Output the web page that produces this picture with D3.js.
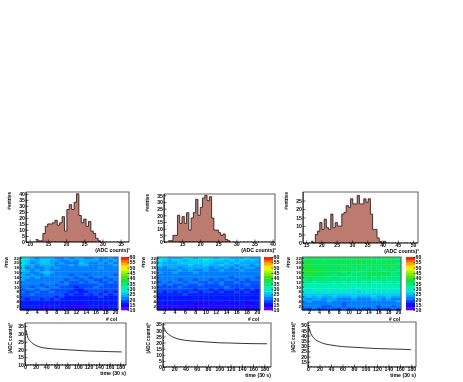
<!DOCTYPE html>
<html>
<head>
<meta charset="utf-8">
<script src="https://cdn.jsdelivr.net/npm/d3@7"></script>
<style>
html, body { margin: 0; padding: 0; background: #fff; }
svg { display: block; filter: blur(0.45px); }
text { font-family: "Liberation Sans", sans-serif; font-weight: bold; fill: #000; }
</style>
</head>
<body>
<svg id="chart" width="463" height="382"></svg>
<script>
// histogram counts
var histStart = [11.65, 11.2, 16.6];
var histBin = [0.66, 0.63, 0.72];
var histA = [2,1,1,7,13,15,15,16,18,14,16,21,9,27,31,27,33,40,22,16,19,13,17,9,7,3,1];
var histB = [1,1,5,5,20,14,19,14,22,9,18,22,32,20,26,33,35,31,34,18,9,9,7,5,6,2,1];
var histC = [1,0,5,7,12,8,14,9,8,17,9,12,10,10,17,18,22,21,26,23,23,28,23,23,26,24,26,17,8,8,3,1,0,1];

// heat maps, top row (22) first, column 1 to 20
var heatA = [
 [27,25,23,21,23,24,23,22,22,23,22,23,24,22,22,23,22,21,23,22],
 [29,26,23,24,26,26,24,23,22,22,23,22,24,23,23,24,22,23,22,23],
 [28,25,22,24,25,26,24,22,23,21,22,22,25,23,21,22,24,21,23,22],
 [27,24,23,22,24,24,23,22,21,22,23,21,23,24,22,21,22,22,21,23],
 [26,22,23,21,22,23,22,23,21,21,22,22,21,22,20,21,23,21,22,20],
 [25,23,22,23,21,24,22,21,22,20,21,22,22,20,21,22,21,20,21,21],
 [24,23,21,22,23,25,23,21,20,21,20,21,20,21,22,20,21,22,20,21],
 [23,22,23,21,22,24,22,20,21,21,19,20,21,19,20,21,20,20,21,19],
 [24,24,22,23,21,22,21,21,20,20,21,19,20,20,19,21,20,19,20,20],
 [23,22,21,22,21,20,22,20,21,19,20,20,18,20,21,19,19,20,19,20],
 [22,21,22,20,21,21,20,21,19,20,18,19,20,19,20,20,19,18,20,19],
 [20,21,20,21,19,20,21,19,20,20,19,18,19,18,19,19,20,19,18,19],
 [21,20,19,20,21,19,20,20,19,18,19,17,18,19,18,20,19,18,19,18],
 [19,20,20,19,20,20,19,19,18,19,18,17,17,18,19,18,18,19,18,18],
 [20,19,19,20,18,19,20,18,19,18,17,18,16,17,18,19,18,17,18,17],
 [19,18,20,18,19,19,18,19,18,17,18,16,17,18,17,18,17,18,17,18],
 [18,19,18,19,18,18,19,17,18,17,17,16,17,16,17,17,18,17,17,17],
 [18,17,18,18,17,18,17,18,17,16,16,17,16,16,16,17,16,17,16,17],
 [17,16,17,16,17,17,16,17,16,17,15,15,16,15,16,16,17,16,16,16],
 [16,15,16,16,15,16,15,16,15,15,15,14,14,15,16,15,16,15,15,15],
 [15,16,15,15,14,14,15,15,14,14,14,13,13,14,15,15,14,14,15,15],
 [14,15,15,16,14,13,14,15,14,15,14,13,13,14,15,15,14,15,15,16]
];
var heatB = [
 [27,26,24,23,24,25,26,24,25,26,25,24,26,25,24,24,23,25,24,23],
 [28,25,24,25,26,24,27,25,26,28,26,25,27,24,25,24,25,24,25,24],
 [26,24,23,24,25,25,26,25,25,27,25,24,24,25,23,25,24,23,24,23],
 [25,23,24,23,24,24,25,24,23,25,24,23,25,23,24,22,24,23,22,24],
 [23,22,23,24,22,24,23,23,24,23,22,24,22,23,22,23,22,23,23,22],
 [22,20,22,22,23,21,23,22,22,23,22,21,23,22,21,22,23,21,22,22],
 [23,21,21,23,21,22,21,23,21,22,21,22,21,22,22,20,21,22,21,21],
 [21,22,22,20,22,21,22,20,22,20,21,20,22,20,21,21,20,21,20,21],
 [20,21,20,21,21,20,21,21,20,21,20,21,20,21,19,20,21,20,20,19],
 [21,20,21,20,19,21,20,19,21,20,19,20,19,20,20,19,20,19,20,20],
 [19,20,19,20,20,19,20,20,19,19,20,18,20,18,19,20,19,19,18,19],
 [20,19,20,19,19,20,18,19,20,18,19,19,21,19,18,19,18,20,19,18],
 [19,18,19,18,20,18,19,18,19,19,18,18,19,20,19,18,19,18,18,19],
 [18,19,18,19,18,19,18,17,18,18,17,18,17,18,18,17,18,17,18,17],
 [18,17,18,17,18,17,18,18,17,18,18,17,18,17,17,18,17,18,17,17],
 [17,17,16,17,17,18,16,17,17,16,17,16,17,17,16,16,17,17,16,17],
 [16,17,16,16,15,16,17,16,15,16,16,17,15,16,17,15,16,16,17,16],
 [16,15,16,15,16,15,15,16,15,15,15,15,16,15,15,16,15,15,16,15],
 [15,16,15,15,15,15,14,15,14,15,14,15,15,14,15,15,15,14,15,15],
 [15,14,15,14,14,15,15,14,14,14,15,14,14,15,14,14,15,14,14,15],
 [14,14,14,15,14,14,13,13,14,14,14,13,14,14,14,15,14,14,15,14],
 [13,14,13,14,13,13,14,14,13,14,14,13,13,13,14,14,15,14,14,15]
];
var heatC = [
 [33,37,39,37,35,36,35,37,36,35,36,36,37,36,35,35,36,35,36,34],
 [36,38,37,36,34,36,37,35,37,36,37,38,36,37,36,34,36,36,35,35],
 [38,37,35,36,38,35,36,37,36,36,35,36,37,35,36,37,35,37,36,34],
 [37,38,37,37,35,37,35,36,35,37,36,35,35,36,35,36,37,39,35,36],
 [39,39,37,36,37,36,36,35,36,35,34,36,35,34,35,34,35,36,34,35],
 [38,39,38,38,36,37,35,36,35,36,35,35,34,35,36,35,34,35,35,34],
 [39,38,39,37,37,35,36,35,34,35,34,34,35,36,35,36,37,35,34,35],
 [37,38,37,36,36,35,34,35,35,34,35,35,34,36,35,37,36,35,33,34],
 [36,35,36,35,35,34,35,33,34,34,33,34,35,36,34,35,34,34,34,33],
 [34,35,34,34,33,34,33,34,33,33,34,33,34,33,33,34,34,33,33,33],
 [33,33,32,33,34,33,32,33,32,33,32,33,32,33,32,32,33,32,33,32],
 [32,31,32,32,31,32,31,32,31,31,32,31,31,32,31,32,31,32,31,31],
 [31,31,30,31,31,30,31,30,31,30,30,31,30,30,31,30,31,30,30,31],
 [30,29,30,30,29,30,29,30,30,29,29,30,29,30,29,30,29,30,29,29],
 [28,29,28,29,28,29,28,28,29,28,28,27,28,29,28,28,29,28,28,28],
 [26,27,27,26,27,26,27,26,25,26,27,26,26,27,25,26,27,26,26,25],
 [24,25,24,25,24,24,25,24,23,24,25,24,24,23,25,24,24,25,24,24],
 [23,22,23,23,22,23,23,22,21,22,23,22,21,22,23,23,22,23,22,22],
 [22,23,21,22,22,23,22,22,20,21,22,22,21,20,21,22,22,21,22,23],
 [21,22,22,20,21,21,22,21,19,20,21,21,22,21,20,21,22,21,21,21],
 [20,20,21,21,18,19,20,20,19,21,20,20,20,21,20,19,20,20,19,20],
 [19,19,20,19,18,20,19,19,20,19,19,20,19,19,20,19,19,19,20,19]
];

// cooling curves: time, |ADC counts|^2
var timeA = [2,5,10,20,30,40,60,80,100,120,140,160,183];
var curveA = [32.5,28,25.3,22.7,21.4,20.8,20.2,19.8,19.4,19,18.8,18.6,18.4];
var timeB = [1,5,10,20,30,40,60,80,100,120,140,160,185];
var curveB = [32.8,29,26.7,24,22.6,21.8,21,20.4,19.8,19.6,19.3,19.1,19];
var timeC = [1,5,10,20,30,40,60,80,100,120,140,160,179];
var curveC = [48.4,42,37.8,34,32,31,29.5,28.9,28.2,27.6,27.3,27,26.6];

var paletteStops = [10,15,20,25,30,35,40,45,50,55,60];
var paletteColors = ["#8000ff","#0000ff","#0068ff","#00c0ff","#00f4c8","#00e870","#28e020","#90f000","#ffff00","#ff9000","#ff0000"];
var paletteTicks = [10,15,20,25,30,35,40,45,50,55,60];
var colTicks = [2,4,6,8,10,12,14,16,18,20];
var rowTicks = [2,4,6,8,10,12,14,16,18,20,22];

var svg = d3.select("#chart");
var tickFont = 5.2;

var rainbow = d3.scaleLinear().domain(paletteStops).range(paletteColors);
// the palette is stepped in 2.5 count bands like the colour bar
var levels = d3.range(10, 60, 2.5);
var heatColor = d3.scaleQuantize().domain([10, 60]).range(levels.map(function (d) { return rainbow(d + 1.25); }));

function styleAxis(g) {
  g.select(".domain").remove();
  g.selectAll("line").attr("stroke", "#000").attr("stroke-width", 0.6);
  g.selectAll("text").style("font-size", tickFont + "px");
}

function drawFrame(g, w, h) {
  // root style box: grey top and right, black left and bottom
  g.append("path").attr("fill", "none").attr("stroke", "#666").attr("stroke-width", 1.1)
    .attr("d", "M0,0H" + w + "V" + h);
  g.append("path").attr("fill", "none").attr("stroke", "#000").attr("stroke-width", 1)
    .attr("d", "M0,0V" + h + "H" + w);
}

function drawAxes(g, x, y, w, h, xTicks, yTicks, xMinor, yMinor) {
  g.append("g").attr("transform", "translate(0," + h + ")")
    .call(d3.axisBottom(x).tickValues(xMinor).tickSize(-1).tickFormat(""))
    .call(styleAxis);
  g.append("g")
    .call(d3.axisLeft(y).tickValues(yMinor).tickSize(-1).tickFormat(""))
    .call(styleAxis);
  g.append("g").attr("transform", "translate(0," + h + ")")
    .call(d3.axisBottom(x).tickValues(xTicks).tickSize(-2.5).tickPadding(0).tickFormat(d3.format("d")))
    .call(styleAxis);
  g.append("g")
    .call(d3.axisLeft(y).tickValues(yTicks).tickSize(-2.5).tickPadding(1).tickFormat(d3.format("d")))
    .call(styleAxis);
}

function yLabel(g, label, xPos, yPos) {
  g.append("text").attr("transform", "translate(" + xPos + "," + yPos + ") rotate(-90)")
    .attr("text-anchor", "end").style("font-size", "4.6px").text(label);
}

function xLabel(g, label, xPos, yPos, size) {
  g.append("text").attr("x", xPos).attr("y", yPos).attr("text-anchor", "end")
    .style("font-size", size + "px").text(label);
}

function drawHist(box, counts, start, bin, xDomain, yMax, xTicks, yTicks) {
  var w = box.right - box.left, h = box.bottom - box.top;
  var g = svg.append("g").attr("transform", "translate(" + box.left + "," + box.top + ")");
  var x = d3.scaleLinear().domain(xDomain).range([0, w]);
  var y = d3.scaleLinear().domain([0, yMax]).range([h, 0]);

  var steps = [];
  counts.forEach(function (c, i) {
    steps.push([start + i * bin, c]);
  });
  steps.push([start + counts.length * bin, 0]);

  var area = d3.area().curve(d3.curveStepAfter)
    .x(function (d) { return x(d[0]); })
    .y0(h).y1(function (d) { return y(d[1]); });
  var line = d3.line().curve(d3.curveStepAfter)
    .x(function (d) { return x(d[0]); })
    .y(function (d) { return y(d[1]); });

  g.append("path").datum(steps).attr("fill", "#bd7b6f").attr("d", area);
  g.append("path").datum(steps).attr("fill", "none").attr("stroke", "#1a1010").attr("stroke-width", 0.8).attr("d", line);

  var xMinor = x.ticks(30), yMinor = y.ticks(yMax);
  drawAxes(g, x, y, w, h, xTicks, yTicks, xMinor, yMinor);
  drawFrame(g, w, h);
  yLabel(g, "#entries", -15, 0);
  xLabel(g, "(ADC counts)\u00b2", w + 1, h + 10, 5.2);
}

function drawHeat(box, barBox, matrix) {
  var w = box.right - box.left, h = box.bottom - box.top;
  var g = svg.append("g").attr("transform", "translate(" + box.left + "," + box.top + ")");
  var cols = d3.range(1, 21), rows = d3.range(22, 0, -1);
  var xBand = d3.scaleBand().domain(cols).range([0, w]);
  var yBand = d3.scaleBand().domain(rows).range([0, h]);

  rows.forEach(function (r, i) {
    g.selectAll(null).data(matrix[i]).enter().append("rect")
      .attr("x", function (d, j) { return xBand(cols[j]); })
      .attr("y", yBand(r))
      .attr("width", xBand.bandwidth() + 0.3)
      .attr("height", yBand.bandwidth() + 0.3)
      .attr("fill", function (d) { return heatColor(d); });
  });

  var xAxis = d3.axisBottom(xBand).tickValues(colTicks).tickSize(-2).tickPadding(0.5);
  var yAxis = d3.axisLeft(yBand).tickValues(rowTicks).tickSize(-2).tickPadding(1);
  g.append("g").attr("transform", "translate(0," + h + ")").call(xAxis).call(styleAxis);
  g.append("g").call(yAxis).call(styleAxis).selectAll("text").style("font-size", "4.4px");
  drawFrame(g, w, h);
  yLabel(g, "#row", -12, 0);
  xLabel(g, "# col", w - 1, h + 10.5, 4.8);

  // colour bar
  var b = svg.append("g").attr("transform", "translate(" + barBox.left + "," + box.top + ")");
  var bw = barBox.right - barBox.left;
  var yBar = d3.scaleLinear().domain([10, 60]).range([h, 0]);
  b.selectAll("rect").data(levels).enter().append("rect")
    .attr("x", 0).attr("width", bw)
    .attr("y", function (d) { return yBar(d + 2.5); })
    .attr("height", function (d) { return yBar(d) - yBar(d + 2.5) + 0.3; })
    .attr("fill", function (d) { return heatColor(d + 1); });
  b.append("g").attr("transform", "translate(" + bw + ",0)")
    .call(d3.axisRight(yBar).tickValues(paletteTicks).tickSize(-1.5).tickPadding(0.5))
    .call(styleAxis);
}

function drawCurve(box, times, values, yDomain, yTicks) {
  var w = box.right - box.left, h = box.bottom - box.top;
  var g = svg.append("g").attr("transform", "translate(" + box.left + "," + box.top + ")");
  var x = d3.scaleLinear().domain([0, box.xMax]).range([0, w]);
  var y = d3.scaleLinear().domain(yDomain).range([h, 0]);
  var line = d3.line().curve(d3.curveMonotoneX)
    .x(function (d) { return x(d[0]); })
    .y(function (d) { return y(d[1]); });

  g.append("path").datum(d3.zip(times, values)).attr("fill", "none")
    .attr("stroke", "#000").attr("stroke-width", 0.8).attr("d", line);

  drawAxes(g, x, y, w, h, d3.range(0, 181, 20), yTicks, x.ticks(40), y.ticks(20));
  drawFrame(g, w, h);
  yLabel(g, "|ADC counts|\u00b2", -13, 0);
  xLabel(g, "time (30 s)", w, h + 10, 5.2);
}

drawHist({left: 26, right: 129, top: 192, bottom: 242}, histA, histStart[0], histBin[0], [9, 37.3], 41.5, [10,15,20,25,30,35], [0,5,10,15,20,25,30,35,40]);
drawHist({left: 164, right: 275, top: 194, bottom: 242}, histB, histStart[1], histBin[1], [10, 40.7], 36, [15,20,25,30,35,40], [0,5,10,15,20,25,30,35]);
drawHist({left: 303, right: 418, top: 192, bottom: 243}, histC, histStart[2], histBin[2], [14, 51.6], 30, [15,20,25,30,35,40,45,50], [0,5,10,15,20,25]);

drawHeat({left: 20, right: 118, top: 257, bottom: 310}, {left: 121, right: 129}, heatA);
drawHeat({left: 157, right: 260, top: 257, bottom: 310}, {left: 264, right: 273}, heatB);
drawHeat({left: 302, right: 401, top: 257, bottom: 310}, {left: 406, right: 415}, heatC);

drawCurve({left: 25, right: 126, top: 323, bottom: 365, xMax: 191}, timeA, curveA, [10, 37], [10,15,20,25,30,35]);
drawCurve({left: 163, right: 271, top: 323, bottom: 367, xMax: 192}, timeB, curveB, [0, 36], [0,5,10,15,20,25,30,35]);
drawCurve({left: 308, right: 416, top: 322, bottom: 367, xMax: 188}, timeC, curveC, [10, 53], [15,20,25,30,35,40,45,50]);
</script>
</body>
</html>
